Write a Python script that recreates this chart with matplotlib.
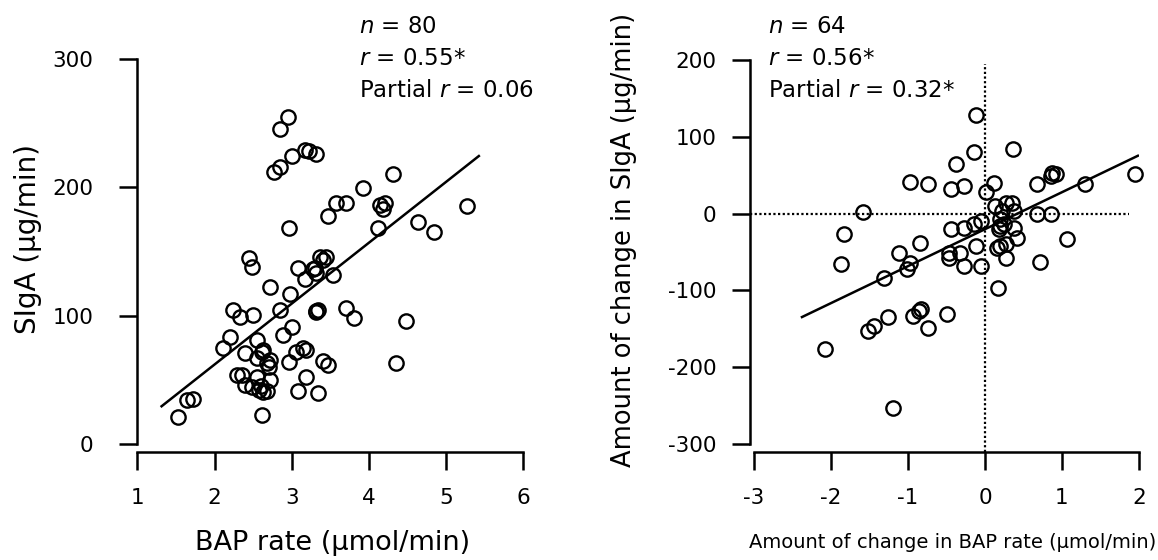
import numpy as np
import matplotlib
matplotlib.use("Agg")
import matplotlib.pyplot as plt

# ---- Painel esquerdo: BAP rate x SIgA (n = 80) ----
bap_rate = [2.95, 2.85, 3.00, 3.17, 3.22, 3.32, 2.85, 2.77,
            4.32, 3.92, 3.58, 3.70, 3.47, 4.14, 4.21, 4.18, 4.12, 5.27, 4.64, 4.85, 2.96,
            2.44, 2.48, 3.085, 3.17, 3.30, 3.32, 3.37, 3.45, 3.41, 3.54,
            2.72, 2.98, 2.24, 2.33, 2.50, 2.85, 3.00, 2.89, 2.20, 2.11, 2.55, 2.40, 2.63, 2.72,
            2.68, 2.55, 2.96, 3.06, 3.15, 3.19,
            3.32, 3.34, 3.70, 3.81, 4.48,
            3.41, 3.47, 4.35,
            2.29, 2.35, 2.55, 2.40, 2.48, 2.72, 2.57, 2.63, 2.68, 3.085, 3.19, 3.34,
            1.64, 1.725, 1.52, 2.61,
            3.28, 2.60, 2.62, 3.32, 2.70]
siga = [254.6, 245.3, 224.5, 229.0, 228.6, 226.0, 215.7, 212.3,
        210.4, 199.8, 187.6, 187.6, 178.0, 186.0, 187.6, 183.0, 168.0, 185.5, 173.3, 165.5, 168.5,
        144.7, 138.0, 137.0, 128.8, 137.0, 133.0, 146.0, 146.0, 143.4, 131.5,
        122.6, 117.0, 104.4, 99.2, 100.5, 104.4, 91.4, 85.0, 83.6, 74.6, 81.0, 70.7, 73.3, 65.5,
        63.0, 66.8, 64.0, 72.0, 74.6, 73.3,
        103.0, 104.4, 105.7, 98.0, 96.0,
        65.0, 61.6, 63.4,
        53.8, 53.8, 52.5, 46.0, 44.7, 49.9, 42.0, 40.8, 41.5, 41.5, 52.5, 39.5,
        34.3, 34.8, 20.8, 22.6,
        136.0, 45.0, 72.0, 104.0, 60.0]
fit_left_x = [1.30, 5.44]
fit_left_y = [28.8, 225.0]

# ---- Painel direito: variacao BAP x variacao SIgA (n = 64) ----
delta_bap = [-0.12, -0.14, 0.364, -0.37, -0.97, -0.735, -0.445, -0.27, 0.12, 0.02,
             0.67, 0.875, 0.92, 0.853, 1.295, 1.95, -1.58, -1.83, -1.87, -1.12,
             -0.84, -0.97, -1.01, -1.31, -0.445, -0.27, -0.14, -0.056, -0.47, -0.47,
             -0.32, -0.12, -0.27, -0.056, 0.13, 0.27, 0.356, 0.226, 0.377, 0.67,
             0.853, 0.20, 0.20, 0.247, 0.18, 0.377, 0.42, 0.20, 0.16, 0.27,
             0.27, 1.06, 0.72, 0.174, -0.94, -0.857, -0.835, -0.497, -0.735, -1.26,
             -1.44, -1.52, -2.07, -1.20]
delta_siga = [128.5, 80.7, 83.8, 65.1, 41.7, 39.1, 31.8, 36.0, 40.4, 28.6,
              39.1, 53.4, 51.3, 49.1, 39.1, 52.1, 2.2, -26.0, -65.0, -50.8,
              -37.8, -63.8, -72.4, -83.3, -20.3, -18.2, -13.8, -9.5, -50.8, -57.3,
              -50.8, -42.0, -68.0, -68.0, 10.0, 14.3, 14.3, 3.5, 3.5, -0.8,
              -0.8, -7.3, -16.0, -13.8, -20.3, -18.2, -31.2, -42.0, -44.3, -39.8,
              -57.3, -33.4, -62.9, -96.3, -133.0, -126.7, -124.5, -131.0, -149.2, -134.0,
              -146.0, -152.7, -175.8, -252.6]
fit_right_x = [-2.39, 2.0]
fit_right_y = [-135.4, 76.0]
zero_h_end = 1.87   # fim da linha pontilhada horizontal
zero_v_top = 195    # topo da linha pontilhada vertical

left_xticks = [1, 2, 3, 4, 5, 6]
left_yticks = [0, 100, 200, 300]
right_xticks = [-3, -2, -1, 0, 1, 2]
right_yticks = [-300, -200, -100, 0, 100, 200]
left_xlabels = ["1", "2", "3", "4", "5", "6"]
left_ylabels = ["0", "100", "200", "300"]
right_xlabels = ["-3", "-2", "-1", "0", "1", "2"]
right_ylabels = ["-300", "-200", "-100", "0", "100", "200"]

stats_left = ["$n$ = 80", "$r$ = 0.55*", "Partial $r$ = 0.06"]
stats_right = ["$n$ = 64", "$r$ = 0.56*", "Partial $r$ = 0.32*"]

plt.rcParams['font.family'] = ['DejaVu Sans']
plt.rcParams['axes.unicode_minus'] = False
LW = 1.8
TICK_FS = 15.5


def style_axis(ax, xticks, xlabels, yticks, ylabels, ypad):
    """Eixos estilo R: sem borda superior/direita, spines limitados aos ticks."""
    ax.spines['top'].set_visible(False)
    ax.spines['right'].set_visible(False)
    for side in ['left', 'bottom']:
        ax.spines[side].set_linewidth(LW)
    ax.spines['left'].set_bounds(yticks[0], yticks[-1])
    ax.spines['bottom'].set_bounds(xticks[0], xticks[-1])
    ax.set_xticks(xticks, xlabels, fontsize=TICK_FS)
    ax.set_yticks(yticks, ylabels, fontsize=TICK_FS)
    ax.tick_params(direction='out', length=13, width=LW)
    ax.tick_params(axis='y', pad=ypad)
    ax.tick_params(axis='x', pad=13)


def plot_scatter(ax, x, y, fx, fy):
    ax.plot(x, y, 'o', ls='none', ms=10.3, mfc='none', mec='black', mew=1.7, clip_on=False)
    ax.plot(fx, fy, color='black', lw=LW, solid_capstyle='butt')


fig = plt.figure(figsize=(11.58, 5.6), dpi=100)
ax1 = fig.add_axes([0.11805, 0.19286, 0.3336, 0.70179])
ax2 = fig.add_axes([0.64767, 0.19286, 0.33592, 0.70])

# Painel esquerdo
plot_scatter(ax1, bap_rate, siga, fit_left_x, fit_left_y)
ax1.set_xlim(0.99, 6.0)
ax1.set_ylim(-6.23, 300)
style_axis(ax1, left_xticks, left_xlabels, left_yticks, left_ylabels, ypad=18)

# Painel direito
ax2.plot([-3.05, zero_h_end], [0, 0], color='black', lw=1.6, ls=(0, (1, 1.1)))
ax2.plot([0, 0], [-310.4, zero_v_top], color='black', lw=1.6, ls=(0, (1, 1.1)))
plot_scatter(ax2, delta_bap, delta_siga, fit_right_x, fit_right_y)
ax2.set_xlim(-3.05, 2.0)
ax2.set_ylim(-310.4, 200)
style_axis(ax2, right_xticks, right_xlabels, right_yticks, right_ylabels, ypad=11)

# Rotulos
fig.text(28 / 1158, 1 - 239 / 560, "SIgA (μg/min)", rotation=90, ha='center', va='center', fontsize=20)
fig.text(333 / 1158, 1 - 543 / 560, "BAP rate (μmol/min)", ha='center', va='center', fontsize=19.5)
fig.text(624 / 1158, 1 - 240 / 560, "Amount of change in SIgA (μg/min)", rotation=90,
         ha='center', va='center', fontsize=18.5)
fig.text(953 / 1158, 1 - 543 / 560, "Amount of change in BAP rate (μmol/min)",
         ha='center', va='center', fontsize=14)

# Estatisticas
for i, (sl, sr) in enumerate(zip(stats_left, stats_right)):
    yb = 1 - (33 + 32 * i) / 560
    fig.text(359 / 1158, yb, sl, ha='left', va='baseline', fontsize=16.5)
    fig.text(768 / 1158, yb, sr, ha='left', va='baseline', fontsize=16.5)

plt.savefig("out.png", dpi=100)
plt.close()
print("Gráfico salvo em: out.png")
